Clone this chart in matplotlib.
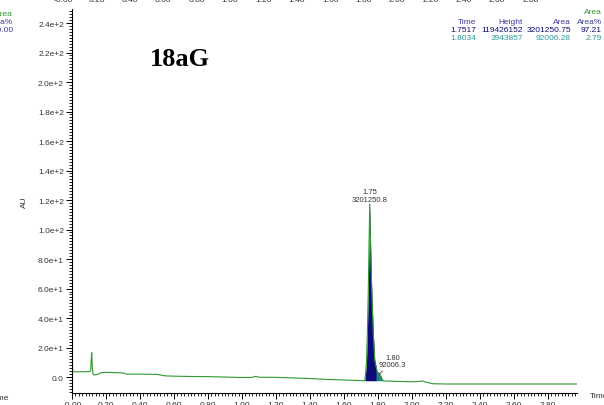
import numpy as np
import matplotlib.pyplot as plt
from matplotlib.ticker import MultipleLocator, FixedLocator, FixedFormatter

# chromatogram trace (time in min, signal in AU)
trace_t = [-0.003, 0.000, 0.002, 0.005, 0.010, 0.050, 0.100, 0.110, 0.113,
           0.116, 0.119, 0.123, 0.128, 0.150, 0.175, 0.200, 0.250, 0.300,
           0.320, 0.400, 0.500, 0.550, 0.600, 0.700, 0.800, 0.900, 1.000,
           1.060, 1.080, 1.100, 1.200, 1.300, 1.400, 1.500, 1.600, 1.650,
           1.700, 1.722, 1.727, 1.732, 1.737, 1.742, 1.747, 1.751, 1.756,
           1.760, 1.765, 1.772, 1.780, 1.790, 1.795, 1.800, 1.808, 1.815,
           1.822, 1.830, 1.850, 1.900, 2.000, 2.040, 2.060,
           2.080, 2.120, 2.200, 2.400, 2.600, 2.800, 2.970]
trace_y = [0.0, 3.0, 8.8, 4.0, 3.6, 3.6, 3.7, 4.2, 12.0,
           16.5, 8.0, 2.0, 1.4, 1.8, 3.1, 3.2, 3.0, 2.8,
           2.0, 2.0, 1.8, 0.8, 0.6, 0.4, 0.3, 0.0, -0.3,
           -0.2, 0.5, -0.1, -0.2, -0.6, -1.0, -1.6, -2.0, -2.2,
           -2.4, -2.5, 3.0, 10.0, 30.0, 56.0, 90.0, 117.3, 90.0,
           70.0, 52.0, 30.0, 12.0, 6.0, 4.0, 3.0, 2.2, 1.0,
           -1.0, -2.5, -2.7, -2.9, -3.2, -3.0, -2.6,
           -3.4, -4.5, -4.7, -4.7, -4.7, -4.7, -4.7]

# integrated peaks (start, split, end) and table
peak1_range = (1.722, 1.790)
peak2_range = (1.790, 1.830)
peak_labels = ["1.75\n3201250.8", "1.80\n92006.3"]
table_header = ["Time", "Height", "Area", "Area%"]
table_row1 = ["1.7517", "119426152", "3201250.75", "97.21"]
table_row2 = ["1.8034", "3943857", "92006.28", "2.79"]

x_ticks = [0.0, 0.2, 0.4, 0.6, 0.8, 1.0, 1.2, 1.4, 1.6, 1.8, 2.0, 2.2, 2.4, 2.6, 2.8]
x_labels = ["-0.00", "0.20", "0.40", "0.60", "0.80", "1.00", "1.20", "1.40",
            "1.60", "1.80", "2.00", "2.20", "2.40", "2.60", "2.80"]
y_ticks = [0, 20, 40, 60, 80, 100, 120, 140, 160, 180, 200, 220, 240]
y_labels = ["0.0", "2.0e+1", "4.0e+1", "6.0e+1", "8.0e+1", "1.0e+2", "1.2e+2",
            "1.4e+2", "1.6e+2", "1.8e+2", "2.0e+2", "2.2e+2", "2.4e+2"]

GREEN = "#2f9a2f"
NAVY = "#0c0c78"
TEAL = "#1a8a78"
TXT = "#333333"
W, H = 604, 406

plt.rcParams['font.family'] = ['Liberation Sans', 'DejaVu Sans']
fig = plt.figure(figsize=(W / 100, H / 100), dpi=100)
ax = fig.add_axes([71.5 / W, 1 - 394 / H, (577 - 71.5) / W, (394 - 10) / H])

t = np.array(trace_t)
y = np.array(trace_y)

# baseline under peaks: straight line from start to end of peak cluster
b0 = np.interp(peak1_range[0], t, y)
b1 = np.interp(peak2_range[1], t, y)
def base(x):
    return b0 + (b1 - b0) * (x - peak1_range[0]) / (peak2_range[1] - peak1_range[0])

for (a, b), col in [(peak1_range, NAVY), (peak2_range, TEAL)]:
    m = (t >= a) & (t <= b)
    xs = np.concatenate([[a], t[m], [b]])
    ys = np.concatenate([[np.interp(a, t, y)], y[m], [np.interp(b, t, y)]])
    ax.fill_between(xs, ys, base(xs), color=col, lw=0)

ax.plot(t, y, color=GREEN, lw=0.8)

ax.annotate(peak_labels[0], xy=(1.751, 117.3), xytext=(0, 1), textcoords='offset points',
            ha='center', va='bottom', fontsize=5.5, color=TXT, linespacing=1.1)
ax.annotate(peak_labels[1], xy=(1.805, 1.8), xytext=(1.885, 6.0), textcoords='data',
            ha='center', va='bottom', fontsize=5.5, color=TXT, linespacing=1.1,
            arrowprops=dict(arrowstyle='-', lw=0.6, color=TXT, shrinkA=0, shrinkB=0))

ax.set_xlim(-0.003, 2.97)
ax.set_ylim(-10.8, 249.5)
for s in ['top', 'right']:
    ax.spines[s].set_visible(False)
for s in ['left', 'bottom']:
    ax.spines[s].set_linewidth(0.8)
ax.xaxis.set_major_locator(FixedLocator(x_ticks))
ax.xaxis.set_major_formatter(FixedFormatter(x_labels))
ax.yaxis.set_major_locator(FixedLocator(y_ticks))
ax.yaxis.set_major_formatter(FixedFormatter(y_labels))
ax.xaxis.set_minor_locator(MultipleLocator(0.02))
ax.yaxis.set_minor_locator(MultipleLocator(2))
ax.tick_params(which='major', length=4, width=0.7, labelsize=6, labelcolor=TXT, pad=1.5)
ax.tick_params(which='minor', length=2, width=0.6)

ax.set_ylabel("AU", fontsize=6, color=TXT)
ax.yaxis.set_label_coords(-0.087, 0.5)

def px(x, yy):
    return x / W, 1 - yy / H

fig.text(*px(180, 60), "18aG", family='Liberation Serif', weight='bold',
         fontsize=19, ha='center', va='center', color='black')
fig.text(*px(590, 397), "Time", fontsize=6, ha='left', va='center', color=TXT)
fig.text(*px(9, 399), "Time", fontsize=6, ha='right', va='center', color=TXT)

# cut-off texts of neighbouring panel
for i, lab in enumerate(x_labels):
    fig.text(*px(63 + 167 * x_ticks[i], 0), lab, fontsize=6, ha='center', va='center', color=TXT)
fig.text(*px(13, 14), "Area", fontsize=6, ha='right', va='center', color=GREEN)
fig.text(*px(13, 22), "Area%", fontsize=6, ha='right', va='center', color="#3b3b9b")
fig.text(*px(13, 30), "100.00", fontsize=6, ha='right', va='center', color="#3b3b9b")

# peak table top right
col_right = [476, 523, 571, 602]
fig.text(*px(602, 13), "Area", fontsize=6, ha='right', va='center', color=GREEN)
for row, yy, col in [(table_header, 22, "#3b3b9b"), (table_row1, 30, NAVY), (table_row2, 38, "#2a9a9a")]:
    for xr, s in zip(col_right, row):
        fig.text(*px(xr, yy), s, fontsize=6, ha='right', va='center', color=col)

fig.savefig("out.png", dpi=100)
